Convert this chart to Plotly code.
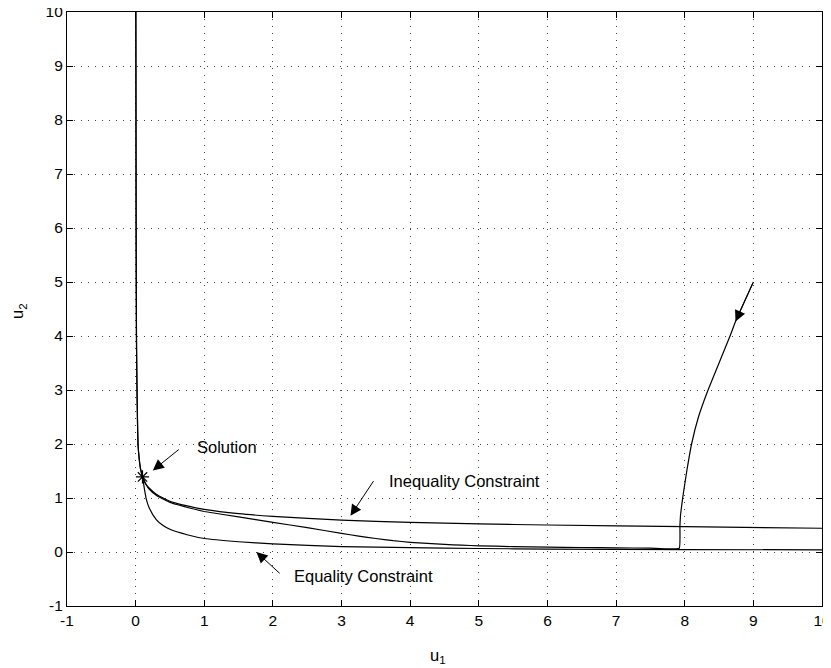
import plotly.graph_objects as go

# ---- data ----
eq_u1 = [0.003, 0.007, 0.012, 0.02, 0.035, 0.05, 0.07, 0.1, 0.13, 0.155, 0.2, 0.3, 0.4, 0.5, 0.75, 1.0, 1.5, 2.0, 3.0, 4.0, 5.0, 6.0, 8.0, 10.0]
eq_u2 = [10.0, 6.0, 4.0, 3.0, 2.0, 1.75, 1.55, 1.39, 1.15, 0.98, 0.81, 0.60, 0.49, 0.42, 0.32, 0.25, 0.19, 0.15, 0.10, 0.08, 0.065, 0.055, 0.045, 0.04]

ineq_u1 = [0.003, 0.007, 0.012, 0.02, 0.035, 0.05, 0.07, 0.1, 0.15, 0.2, 0.3, 0.4, 0.5, 0.6, 0.8, 1.0, 1.5, 2.0, 3.0, 4.0, 5.0, 6.0, 8.0, 10.0]
ineq_u2 = [10.0, 6.0, 4.0, 3.0, 2.0, 1.75, 1.55, 1.39, 1.26, 1.18, 1.07, 1.00, 0.94, 0.90, 0.84, 0.79, 0.71, 0.66, 0.59, 0.55, 0.52, 0.50, 0.47, 0.44]

traj_u1 = [9.0, 8.74, 8.66, 8.5, 8.34, 8.2, 8.10, 8.03, 7.97, 7.94, 7.93, 7.92, 7.5, 7.0, 6.5, 6.0, 5.5, 5.0, 4.75, 4.5, 4.25, 4.0, 3.75, 3.5, 3.25, 3.0, 2.5, 2.0, 1.5, 1.0, 0.8, 0.6, 0.5, 0.4, 0.3, 0.2, 0.15, 0.1]
traj_u2 = [5.0, 4.27, 4.0, 3.5, 3.0, 2.5, 2.0, 1.5, 1.0, 0.7, 0.48, 0.07, 0.072, 0.077, 0.083, 0.09, 0.10, 0.115, 0.126, 0.14, 0.158, 0.18, 0.21, 0.25, 0.295, 0.345, 0.45, 0.55, 0.65, 0.75, 0.81, 0.88, 0.92, 0.98, 1.05, 1.16, 1.25, 1.39]

sol_u1 = [0.1]
sol_u2 = [1.39]

ticks = list(range(-1, 11))

FONT = "Liberation Sans, Arial, Helvetica, sans-serif"
LINE = dict(color="black", width=1.2, shape="spline", smoothing=0.6)

fig = go.Figure()
fig.add_trace(go.Scatter(x=eq_u1, y=eq_u2, mode="lines", line=LINE, showlegend=False))
fig.add_trace(go.Scatter(x=ineq_u1, y=ineq_u2, mode="lines", line=LINE, showlegend=False))
fig.add_trace(go.Scatter(x=traj_u1, y=traj_u2, mode="lines", line=dict(LINE, smoothing=0.3), showlegend=False))
fig.add_trace(go.Scatter(x=sol_u1, y=sol_u2, mode="markers",
                         marker=dict(symbol="asterisk-open", size=11, color="black",
                                     line=dict(color="black", width=1.2)),
                         showlegend=False))

def arrow(x, y, ax, ay):
    fig.add_annotation(x=x, y=y, ax=ax, ay=ay, xref="x", yref="y", axref="x", ayref="y",
                       text="", showarrow=True, arrowhead=2, arrowsize=2.2, arrowwidth=1,
                       arrowcolor="black")

def label(x, y, t):
    fig.add_annotation(x=x, y=y, xref="x", yref="y", text=t, showarrow=False,
                       font=dict(family=FONT, size=16.5, color="black"))

label(1.33, 1.95, "Solution")
arrow(0.25, 1.51, 0.65, 1.92)
label(4.79, 1.32, "Inequality Constraint")
arrow(3.13, 0.67, 3.48, 1.34)
label(3.32, -0.45, "Equality Constraint")
arrow(1.76, 0.0, 2.12, -0.42)
arrow(8.74, 4.27, 9.0, 5.0)

# axis titles
fig.add_annotation(x=0.491, y=-0.104, xref="paper", yref="paper", text="u<sub>1</sub>",
                   showarrow=False, font=dict(family=FONT, size=16.5, color="black"))
fig.add_annotation(x=-0.080, y=0.496, xref="paper", yref="paper", text="u<sub>2</sub>",
                   showarrow=False, textangle=-90, font=dict(family=FONT, size=16.5, color="black"))

axis_common = dict(
    tickmode="array", tickvals=ticks, ticktext=[str(t) for t in ticks],
    range=[-1, 10], ticks="inside", ticklen=6, tickcolor="black", tickwidth=1,
    showline=True, linecolor="black", linewidth=1.2, mirror="ticks",
    showgrid=True, gridcolor="#444", gridwidth=1, griddash="1px,6px",
    zeroline=False, automargin=False, ticklabeloverflow="allow",
    tickfont=dict(family=FONT, size=15.5, color="black"),
)

fig.update_xaxes(**axis_common)
fig.update_yaxes(**axis_common)

# page body adds an 8px offset; compensate so the plot area sits where the reference's does
fig.update_layout(
    width=823, height=660,
    margin=dict(l=59, r=9, t=4, b=61.5),
    plot_bgcolor="white", paper_bgcolor="white",
    font=dict(family=FONT, color="black"),
)

fig.write_html("out.html")
